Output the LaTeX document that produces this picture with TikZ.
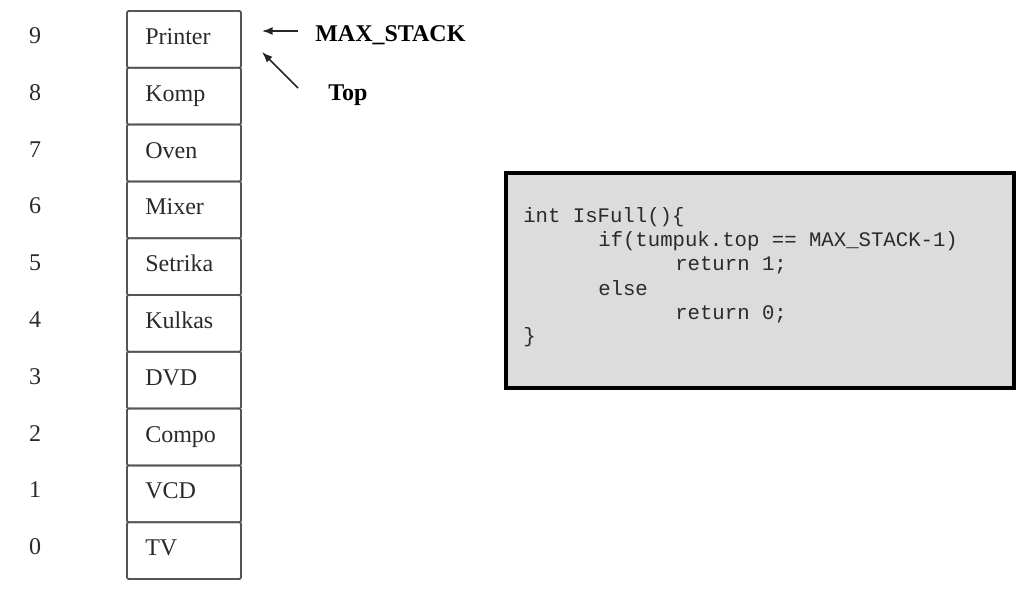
\documentclass[tikz,border=0pt]{standalone}
\usepackage{fontspec}
\setmainfont{Liberation Serif}
\setmonofont{Liberation Mono}
\usetikzlibrary{arrows.meta}
\definecolor{cellline}{HTML}{555555}
\definecolor{celltxt}{HTML}{2A2A2A}
\definecolor{codebg}{HTML}{DCDCDC}
\tikzset{
  cell/.style={draw=cellline, line width=1.3pt, rounded corners=1pt, minimum width=85.5pt, minimum height=42.6pt, inner sep=0pt},
  celltext/.style={anchor=base west, inner sep=0pt, text=celltxt, font=\fontsize{18}{21}\selectfont},
  idx/.style={anchor=base, inner sep=0pt, text=celltxt, font=\fontsize{18}{21}\selectfont},
  lbl/.style={anchor=base west, inner sep=0pt, font=\fontsize{18}{21}\selectfont\bfseries},
  codebox/.style={draw=black, line width=3pt, fill=codebg, inner sep=0pt},
  code/.style={anchor=base west, inner sep=0pt, text=celltxt, font=\fontsize{15.5}{18}\ttfamily},
  ptr/.style={-{Latex[length=8pt,width=6pt]}, line width=1.1pt, draw=black!85}
}
\begin{document}
\begin{tikzpicture}[x=0.75pt,y=-0.75pt]
\useasboundingbox (0,0) rectangle (1024,592);
% stack cells
\foreach \i/\t in {9/Printer,8/Komp,7/Oven,6/Mixer,5/Setrika,4/Kulkas,3/DVD,2/Compo,1/VCD,0/TV}{
  \pgfmathsetmacro{\top}{11+(9-\i)*56.8}
  \node[cell] (c\i) at (184,\top+28.4) {};
  \node[celltext] (t\i) at (145,\top+33.5) {\t};
  \node[idx] (n\i) at (35,\top+32.5) {\i};
}
% labels
\node[lbl] (max) at (315,42) {MAX\_STACK};
\node[lbl] (topl) at (328,100) {Top};
\coordinate (a1s) at (298,31);
\coordinate (a1e) at (262,31);
\coordinate (a2s) at (298,88);
\coordinate (a2e) at (262,52);
\draw[ptr] (a1s) -- (a1e);
\draw[ptr] (a2s) -- (a2e);
% code box
\node[codebox, minimum width=381pt, minimum height=161pt] (box) at (759.5,280.5) {};
\node[code] (l1) at (523,222) {int IsFull()\{};
\node[code] (l2) at (598,246) {if(tumpuk.top == MAX\_STACK-1)};
\node[code] (l3) at (675,270) {return 1;};
\node[code] (l4) at (598,295) {else};
\node[code] (l5) at (675,319) {return 0;};
\node[code] (l6) at (523,342) {\}};
\end{tikzpicture}
\end{document}
